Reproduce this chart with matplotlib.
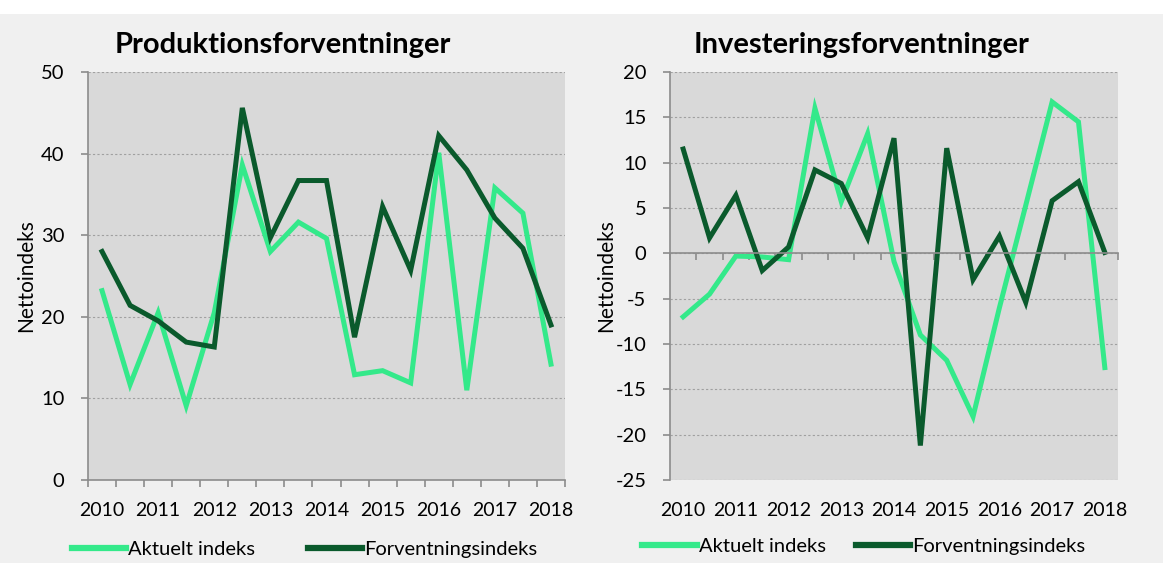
import numpy as np
import matplotlib
matplotlib.use("Agg")
import matplotlib.pyplot as plt
from matplotlib.patches import Rectangle

# semi-annual observations 2010 .. 2018
years = ['2010', '2011', '2012', '2013', '2014', '2015', '2016', '2017', '2018']

prod_aktuelt = [23.2, 11.7, 20.5, 9.1, 20.5, 38.6, 28.0, 31.6, 29.6,
                12.9, 13.4, 11.9, 40.1, 11.0, 35.8, 32.7, 14.2]
prod_forvent = [28.0, 21.4, 19.5, 16.9, 16.3, 45.6, 29.7, 36.7, 36.7,
                17.5, 33.5, 25.7, 42.2, 38.0, 32.1, 28.4, 19.0]

inv_aktuelt = [-7.0, -4.5, -0.3, -0.4, -0.7, 16.0, 5.7, 13.2, -0.9,
               -9.0, -11.8, -18.0, -6.0, 5.3, 16.7, 14.5, -12.6]
inv_forvent = [11.5, 1.7, 6.4, -1.9, 0.7, 9.2, 7.7, 1.7, 12.7,
               -21.2, 11.6, -2.9, 1.9, -5.4, 5.8, 7.9, 0.1]

LIGHT = '#34e98a'
DARK = '#0a5a2c'
AXIS_GREY = '#8c8c8c'
FONT = 'Lato'

plt.rcParams['font.family'] = [FONT, 'DejaVu Sans']

fig = plt.figure(figsize=(11.63, 5.63), dpi=100)
fig.patch.set_facecolor('#f0f0f0')
# white strip at the top of the picture
fig.patches.append(Rectangle((0, 1 - 14 / 563), 1, 14 / 563, transform=fig.transFigure,
                             facecolor='white', edgecolor='none', zorder=0))


def setup_axes(rect, ylim, yticks, title, title_x, ylabel_x):
    ax = fig.add_axes(rect)
    ax.set_facecolor('#d9d9d9')
    n = len(prod_aktuelt)
    ax.set_xlim(-0.5, n - 0.5)
    ax.set_ylim(*ylim)
    ax.set_yticks(yticks)
    ax.set_yticklabels([str(v) for v in yticks], fontsize=14.5)
    ax.yaxis.grid(True, linestyle=(0, (2, 2)), color='#a0a0a0', linewidth=0.8)
    ax.set_axisbelow(True)
    for s in ['top', 'right']:
        ax.spines[s].set_visible(False)
    for s in ['left', 'bottom']:
        ax.spines[s].set_color(AXIS_GREY)
        ax.spines[s].set_linewidth(1.2)
    ax.spines['bottom'].set_position(('data', 0))
    ax.set_xticks(np.arange(-0.5, n, 1))
    ax.set_xticklabels([])
    ax.tick_params(axis='both', direction='out', length=5, width=1.2, color=AXIS_GREY)
    ax.tick_params(axis='y', pad=12)
    # year labels below the plot area
    for i, yr in enumerate(years):
        ax.text(2 * i, -0.075, yr, transform=ax.get_xaxis_transform(),
                ha='center', va='center', fontsize=14)
    fig.text(title_x, 1 - 45 / 563, title, fontsize=21, fontweight='bold',
             ha='center', va='center')
    fig.text(ylabel_x, 0.5 + 0.01, 'Nettoindeks', rotation=90, fontsize=15,
             ha='center', va='center')
    return ax


bottom = 1 - 480 / 563
height = (480 - 72) / 563

ax1 = setup_axes([88 / 1163, bottom, (565 - 88) / 1163, height], (0, 50),
                 list(range(0, 51, 10)), 'Produktionsforventninger', 283 / 1163, 26 / 1163)
ax2 = setup_axes([670 / 1163, bottom, (1118 - 670) / 1163, height], (-25, 20),
                 list(range(-25, 21, 5)), 'Investeringsforventninger', 862 / 1163, 606 / 1163)

x = np.arange(len(prod_aktuelt))
for ax, a, f, lx, ly, cs in [(ax1, prod_aktuelt, prod_forvent, -0.072, -0.17, 2.6),
                             (ax2, inv_aktuelt, inv_forvent, -0.102, -0.162, 1.5)]:
    ax.plot(x, a, color=LIGHT, linewidth=3.6, solid_joinstyle='miter', label='Aktuelt indeks')
    ax.plot(x, f, color=DARK, linewidth=3.6, solid_joinstyle='miter', label='Forventningsindeks')
    leg = ax.legend(loc='center left', bbox_to_anchor=(lx, ly), ncol=2, frameon=False,
                    fontsize=14.5, handlelength=2.7, handletextpad=0.1, columnspacing=cs)
    for h in leg.get_lines():
        h.set_linewidth(4.5)

fig.savefig('out.png', dpi=100, facecolor=fig.get_facecolor())
